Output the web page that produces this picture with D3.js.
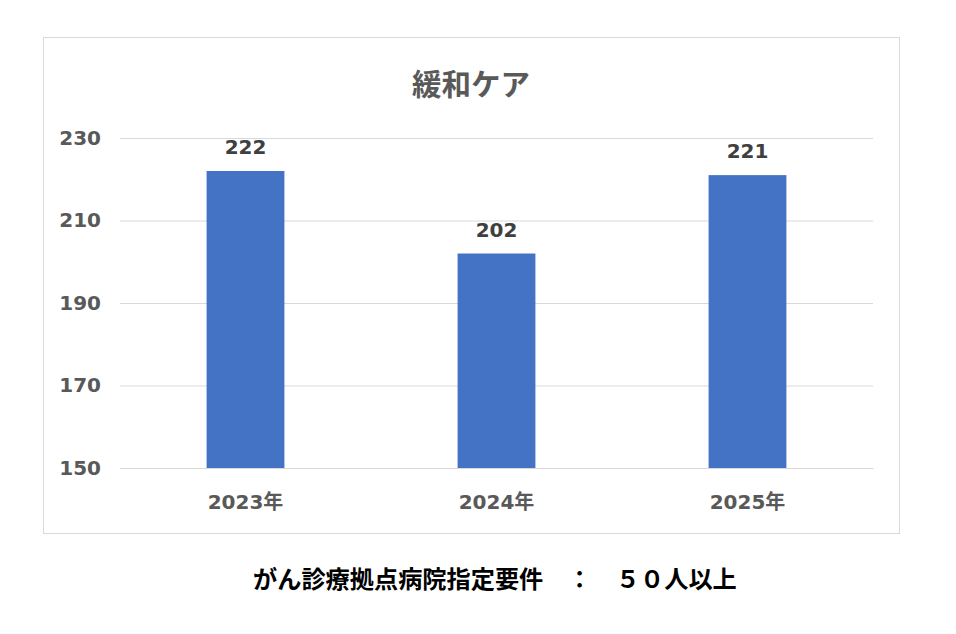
<!DOCTYPE html>
<html>
<head>
<meta charset="utf-8">
<script src="https://cdn.jsdelivr.net/npm/d3@7"></script>
<style>
    body { margin: 0; background: #fff; }
    svg { display: block; }
    .tick-label { font-family: 'DejaVu Sans', 'Noto Sans CJK JP', sans-serif; font-weight: bold; }
</style>
</head>
<body>
<svg id="chart" width="956" height="634"></svg>
<script>
// data
var years = ['2023年', '2024年', '2025年'];
var counts = [222, 202, 221];
var yTicks = [150, 170, 190, 210, 230];
var title = '緩和ケア';
var footnote = 'がん診療拠点病院指定要件　：　５０人以上';

const chart = (function () {

    let svg = d3.select('#chart'),
        plot = {left: 120, right: 873, top: 138, bottom: 468},
        barColor = '#4472c4',
        gridColor = '#d9d9d9',
        textColor = '#595959',
        labelColor = '#404040',
        fontSize = 20;

    return { draw };

    function draw() {

        //outer frame of the chart area
        svg.append('rect')
            .attr('x', 43.5)
            .attr('y', 37.5)
            .attr('width', 856)
            .attr('height', 496)
            .attr('fill', '#fff')
            .attr('stroke', gridColor);

        svg.append('text')
            .attr('x', 471)
            .attr('y', 95)
            .attr('text-anchor', 'middle')
            .style('font-family', "'Noto Sans CJK JP', sans-serif")
            .style('font-weight', 'bold')
            .style('font-size', '29.5px')
            .attr('fill', textColor)
            .text(title);

        var y = d3.scaleLinear()
            .domain([150, 230])
            .range([plot.bottom, plot.top]);

        //bars sit in the middle of equal category slots
        var x = d3.scaleBand()
            .domain(years)
            .range([plot.left, plot.right])
            .paddingInner(0.69)
            .paddingOuter(0.345);

        //gridlines + y labels via axis, then restyle
        var yAxis = svg.append('g')
            .attr('transform', 'translate(' + plot.left + ',0)')
            .call(d3.axisLeft(y)
                .tickValues(yTicks)
                .tickSize(-(plot.right - plot.left))
                .tickPadding(19));

        yAxis.select('.domain').remove();
        yAxis.selectAll('.tick line')
            .attr('stroke', gridColor);
        yAxis.selectAll('.tick text')
            .attr('class', 'tick-label')
            .attr('fill', textColor)
            .style('font-size', fontSize + 'px');

        svg.selectAll('.bar')
            .data(counts)
            .enter().append('rect')
            .attr('class', 'bar')
            .attr('x', function(d, i) { return x(years[i]); })
            .attr('y', function(d) { return y(d); })
            .attr('width', x.bandwidth())
            .attr('height', function(d) { return y(150) - y(d); })
            .attr('fill', barColor);

        //value labels above bars
        svg.selectAll('.value')
            .data(counts)
            .enter().append('text')
            .attr('class', 'tick-label value')
            .attr('x', function(d, i) { return x(years[i]) + x.bandwidth() / 2; })
            .attr('y', function(d) { return y(d) - 17; })
            .attr('text-anchor', 'middle')
            .attr('fill', labelColor)
            .style('font-size', fontSize + 'px')
            .text(function(d) { return d; });

        var xAxis = svg.append('g')
            .attr('transform', 'translate(0,' + plot.bottom + ')')
            .call(d3.axisBottom(x).tickSize(0).tickPadding(27));

        xAxis.select('.domain')
            .attr('stroke', gridColor);
        xAxis.selectAll('.tick text')
            .attr('class', 'tick-label')
            .attr('fill', textColor)
            .style('font-size', fontSize + 'px');

        svg.append('text')
            .attr('x', 253)
            .attr('y', 588)
            .style('font-family', "'Noto Sans CJK JP', sans-serif")
            .style('font-weight', 'bold')
            .style('font-size', '24.2px')
            .attr('fill', '#000')
            .text(footnote);
    }

}());

chart.draw();
</script>
</body>
</html>
